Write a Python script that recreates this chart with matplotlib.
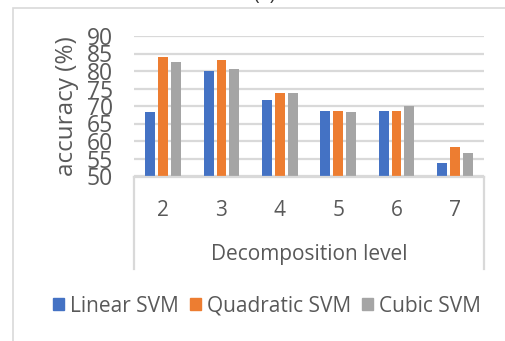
import numpy as np
import matplotlib
matplotlib.use("Agg")
import matplotlib.pyplot as plt
from matplotlib.lines import Line2D
from matplotlib.patches import Rectangle

plt.rcParams['font.family'] = ['Open Sans', 'DejaVu Sans']

levels = ["2", "3", "4", "5", "6", "7"]
linear_svm = [68.2, 80.0, 71.6, 68.6, 68.6, 53.6]
quadratic_svm = [83.9, 83.2, 73.7, 68.6, 68.6, 58.4]
cubic_svm = [82.6, 80.7, 73.7, 68.2, 70.0, 56.5]
series_names = ["Linear SVM", "Quadratic SVM", "Cubic SVM"]
colors = ["#4472C4", "#ED7D31", "#A5A5A5"]
yticks = [50, 55, 60, 65, 70, 75, 80, 85, 90]

W, H = 505, 341
fig = plt.figure(figsize=(W / 100, H / 100), dpi=100)

def fx(px):
    return px / W

def fy(py):
    return 1 - py / H

ax = fig.add_axes([fx(134), fy(176), fx(484) - fx(134), fy(36) - fy(176)])

x = np.arange(len(levels))
width = 0.17
step = 0.218
for i, (vals, name, c) in enumerate(zip([linear_svm, quadratic_svm, cubic_svm],
                                        series_names, colors)):
    ax.bar(x + (i - 1) * step, np.array(vals) - 50, bottom=50, width=width,
           color=c, label=name, zorder=3)

ax.set_xlim(-0.5, len(levels) - 0.5)
ax.set_ylim(50, 90)
ax.set_yticks(yticks)
ax.set_yticklabels([str(v) for v in yticks], fontsize=16.5, color="#595959")
ax.set_xticks(x)
ax.set_xticklabels(levels, fontsize=15, color="#595959")
ax.tick_params(axis="y", length=0, pad=15)
ax.tick_params(axis="x", length=0, pad=17)
ax.grid(axis="y", color="#D9D9D9", linewidth=1.6, zorder=0)
for s in ax.spines.values():
    s.set_visible(False)

ax.set_ylabel("accuracy (%)", fontsize=17.5, color="#595959", labelpad=6)
ax.set_xlabel("Decomposition level", fontsize=15, color="#595959", labelpad=17)

# category axis box
for xs, ys in [((134, 484), (177, 177)), ((134, 134), (177, 269)), ((484, 484), (177, 269))]:
    fig.add_artist(Line2D([fx(xs[0]), fx(xs[1])], [fy(ys[0]), fy(ys[1])],
                          color="#D9D9D9", linewidth=1.6))

# chart border
fig.add_artist(Rectangle((fx(13), -0.1), 1.2, fy(8) + 0.1, fill=False,
                         edgecolor="#D9D9D9", linewidth=1.2))

fig.text(fx(264), 1.0, "(a)", ha="center", va="baseline", fontsize=14, color="#333333")

handles = [Rectangle((0, 0), 1, 1, color=c) for c in colors]
fig.legend(handles, series_names, loc="center", bbox_to_anchor=(fx(267), fy(306)),
           ncol=3, frameon=False, fontsize=15, labelcolor="#595959",
           handlelength=0.55, handleheight=0.55, handletextpad=0.3, columnspacing=0.5)

fig.savefig("out.png", dpi=100)
